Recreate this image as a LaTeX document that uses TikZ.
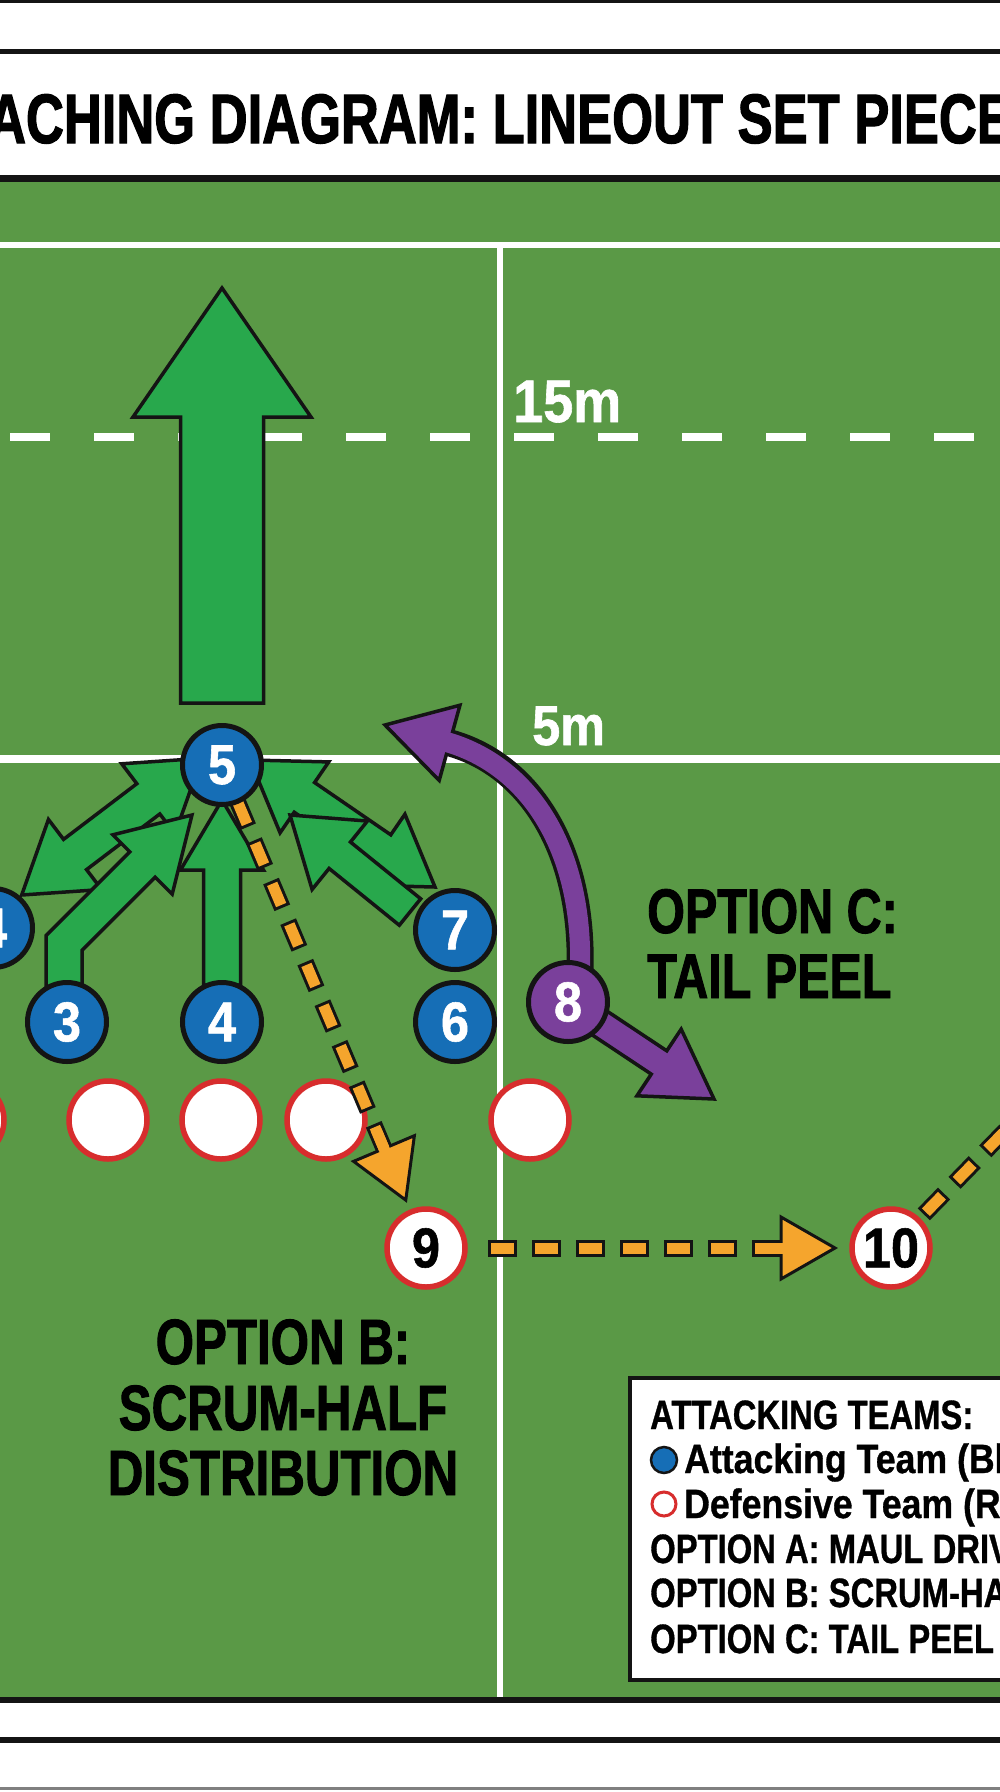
\documentclass[tikz,border=0pt]{standalone}
\usepackage{fontspec}
\usetikzlibrary{calc}
\newfontfamily\titlefont{Liberation Sans}[FakeStretch=0.75, FakeBold=1.6]
\newfontfamily\condfont{Liberation Sans}[FakeStretch=0.77, FakeBold=1.4]
\newfontfamily\legfont{Liberation Sans}[FakeStretch=0.80, FakeBold=0.8]
\newfontfamily\leglowfont{Liberation Sans}[FakeStretch=0.87, FakeBold=0.8]
\newfontfamily\numfont{Liberation Sans}[FakeStretch=0.90, FakeBold=1.0]
\definecolor{field}{RGB}{90,153,70}
\definecolor{agreen}{RGB}{40,168,76}
\definecolor{pblue}{RGB}{22,110,182}
\definecolor{pred}{RGB}{215,45,45}
\definecolor{porange}{RGB}{245,165,45}
\definecolor{ppurple}{RGB}{122,64,155}
\definecolor{inkblack}{RGB}{20,20,20}
\pgfdeclarelayer{bg}
\pgfdeclarelayer{arr}
\pgfsetlayers{bg,arr,main}
% single-headed fat arrow: style, start, tip, half shaft, half head, head length
\newcommand\fatarrow[6]{%
  \coordinate (fab) at ($(#3)!#6!(#2)$);
  \filldraw[#1] ($(#2)!#4!90:(#3)$) -- ($(fab)!#4!90:(#3)$) -- ($(fab)!#5!90:(#3)$) -- (#3)
    -- ($(fab)!#5!-90:(#3)$) -- ($(fab)!#4!-90:(#3)$) -- ($(#2)!#4!-90:(#3)$) -- cycle;}
% double-headed fat arrow
\newcommand\dblarrow[6]{%
  \coordinate (fbone) at ($(#2)!#6!(#3)$);
  \coordinate (fbtwo) at ($(#3)!#6!(#2)$);
  \filldraw[#1] (#2) -- ($(fbone)!#5!90:(#3)$) -- ($(fbone)!#4!90:(#3)$) -- ($(fbtwo)!#4!90:(#3)$)
    -- ($(fbtwo)!#5!90:(#3)$) -- (#3) -- ($(fbtwo)!#5!-90:(#3)$) -- ($(fbtwo)!#4!-90:(#3)$)
    -- ($(fbone)!#4!-90:(#3)$) -- ($(fbone)!#5!-90:(#3)$) -- cycle;}
% outlined dashed arrow: start, head base, tip, half head width
\newcommand\dasharrow[4]{%
  \draw[inkblack, line width=17pt, dash pattern=on 29pt off 15pt] (#1) -- (#2);
  \filldraw[fill=porange, draw=inkblack, line width=3pt, line join=miter]
    ($(#2)!#4!90:(#3)$) -- (#3) -- ($(#2)!#4!-90:(#3)$) -- cycle;
  \draw[porange, line width=11pt, dash pattern=on 0pt off 3pt on 23pt off 18pt] (#1) -- (#2);
  \draw[porange, line width=11pt] ($(#2)!20pt!(#1)$) -- ($(#2)!4pt!(#3)$);}
\begin{document}
\begin{tikzpicture}[x=1pt,y=-1pt,
  garrow/.style={fill=agreen, draw=inkblack, line width=3.5pt, line join=miter},
  parrow/.style={fill=ppurple, draw=inkblack, line width=3.5pt, line join=miter},
  numf/.style={font=\numfont\bfseries\fontsize{56}{56}\selectfont},
  att/.style={circle, draw=inkblack, line width=5pt, fill=pblue, minimum size=79pt, inner sep=0pt, text=white, numf},
  pur/.style={att, fill=ppurple},
  defn/.style={circle, draw=pred, line width=5.5pt, fill=white, minimum size=78pt, inner sep=0pt, text=black, numf},
  bigtxt/.style={inner sep=0pt, font=\condfont\bfseries\fontsize{64}{64}\selectfont},
  lg/.style={anchor=base west, inner sep=0pt, font=\legfont\bfseries\fontsize{41}{45}\selectfont},
  lglow/.style={anchor=base west, inner sep=0pt, font=\leglowfont\bfseries\fontsize{41}{45}\selectfont},
  fieldmark/.style={anchor=base west, inner sep=0pt, text=white}]
\useasboundingbox (0,0) rectangle (1000,1792);

\begin{pgfonlayer}{bg}
  % page bands
  \fill[white] (0,0) rectangle (1000,1792);
  \fill[inkblack] (0,0) rectangle (1000,3);
  \fill[inkblack] (0,49) rectangle (1000,54);
  \fill[field] (0,180) rectangle (1000,1700);
  \fill[inkblack] (0,175) rectangle (1000,182);
  \fill[inkblack] (0,1697) rectangle (1000,1703);
  \fill[inkblack] (0,1737) rectangle (1000,1743);
  \fill[gray] (0,1787) rectangle (1000,1790);
  % field markings
  \fill[white] (0,242) rectangle (1000,248);
  \fill[white] (497,245) rectangle (503,1697);
  \fill[white] (0,755) rectangle (1000,763);
  \draw[white, line width=8pt, dash pattern=on 40pt off 44pt] (10,437) -- (1000,437);
  % defensive line-out
  \node[defn] (d1) at (-35,1120) {};
  \node[defn] (d2) at (108,1120) {};
  \node[defn] (d3) at (221,1120) {};
  \node[defn] (d4) at (326,1120) {};
  \node[defn] (d5) at (530,1120) {};
\end{pgfonlayer}

% title and markings
\node[anchor=base, inner sep=0pt, font=\titlefont\bfseries\fontsize{70}{80}\selectfont] (title) at (500,143) {ACHING DIAGRAM: LINEOUT SET PIECE};
\node[fieldmark, font=\numfont\bfseries\fontsize{60}{60}\selectfont] (m15) at (513,422) {15m};
\node[fieldmark, font=\numfont\bfseries\fontsize{56}{56}\selectfont] (m5) at (532,745) {5m};

% players
\node[att] (n5) at (222,765) {5};
\node[att] (n4L) at (-7,928) {4};
\node[att] (n3) at (67,1022) {3};
\node[att] (n4) at (222,1022) {4};
\node[att] (n7) at (455,930) {7};
\node[att] (n6) at (455,1022) {6};
\node[pur] (n8) at (568,1002) {8};
\node[defn] (n9) at (426,1248) {9};
\node[defn] (n10) at (891,1248) {10};

% option labels
\node[bigtxt, anchor=base west, font=\condfont\bfseries\fontsize{63}{63}\selectfont] (optc1) at (647,933) {OPTION C:};
\node[bigtxt, anchor=base west, font=\condfont\bfseries\fontsize{63}{63}\selectfont] (optc2) at (647,998) {TAIL PEEL};
\node[bigtxt, anchor=base] (optb1) at (283,1364) {OPTION B:};
\node[bigtxt, anchor=base] (optb2) at (283,1430) {SCRUM-HALF};
\node[bigtxt, anchor=base] (optb3) at (283,1495) {DISTRIBUTION};

% legend
\draw[inkblack, line width=4pt, fill=white] (630,1378) rectangle (1015,1680);
\node[lg] (lg1) at (650,1429) {ATTACKING TEAMS:};
\node[circle, fill=pblue, draw=inkblack, line width=2.5pt, minimum size=26pt, inner sep=0pt] (lgd1) at (664,1460) {};
\node[lglow] (lg2) at (684,1473) {Attacking Team (Bl};
\node[circle, fill=white, draw=pred, line width=3pt, minimum size=24pt, inner sep=0pt] (lgd2) at (664,1504) {};
\node[lglow] (lg3) at (684,1518) {Defensive Team (Re};
\node[lg] (lg4) at (650,1563) {OPTION A: MAUL DRIV};
\node[lg] (lg5) at (650,1607) {OPTION B: SCRUM-HA};
\node[lg] (lg6) at (650,1653) {OPTION C: TAIL PEEL};

\begin{pgfonlayer}{arr}
  % option A: maul drive
  \coordinate (maulS) at (222,703);
  \coordinate (maulT) at (222,288);
  \fatarrow{garrow}{maulS}{maulT}{41.5pt}{89pt}{129pt}
  % binding arrows around the jumper
  \coordinate (g1a) at (21.7,895);
  \coordinate (g1b) at (201.7,758.3);
  \dblarrow{garrow}{g1a}{g1b}{19pt}{44pt}{67pt}
  \filldraw[garrow] (46,995) -- (46,935.6) -- (129.8,851.8) -- (112.8,834.8) -- (192,815)
    -- (172.2,894.2) -- (155.2,877.2) -- (82,950.4) -- (82,995) -- cycle;
  \coordinate (g3a) at ($(n4.center)+(0,-37)$);
  \coordinate (g3b) at ($(n5.center)+(0,35)$);
  \fatarrow{garrow}{g3a}{g3b}{18.5pt}{41.5pt}{70pt}
  \coordinate (g4a) at (250,760);
  \coordinate (g4b) at (435,887);
  \dblarrow{garrow}{g4a}{g4b}{18pt}{43pt}{66pt}
  \coordinate (g5a) at (410,912);
  \coordinate (g5b) at (290,815);
  \fatarrow{garrow}{g5a}{g5b}{17pt}{44pt}{64pt}
  % option C: tail peel
  \coordinate (pstart) at ($(n8.center)+(12,-30)$);
  \coordinate (ptip) at (385,725);
  \coordinate (pcone) at (584,850);
  \coordinate (pctwo) at (530,765);
  \coordinate (pbase) at ($(ptip)!67pt!(pctwo)$);
  \draw[inkblack, line width=27pt] (pstart) .. controls (pcone) and (pctwo) .. (pbase);
  \filldraw[parrow] ($(pbase)!39pt!90:(ptip)$) -- (ptip) -- ($(pbase)!39pt!-90:(ptip)$) -- cycle;
  \draw[ppurple, line width=20pt] (pstart) .. controls (pcone) and (pctwo) .. ($(pbase)!5pt!(ptip)$);
  \coordinate (ptwo) at (714,1099);
  \fatarrow{parrow}{n8.center}{ptwo}{14pt}{40pt}{66pt}
  % option B: scrum-half distribution
  \coordinate (oones) at ($(n5.center)!38pt!(n9.center)$);
  \coordinate (oonet) at ($(n9.center)!52pt!(n5.center)$);
  \coordinate (ooneb) at ($(oonet)!56pt!(n5.center)$);
  \dasharrow{oones}{ooneb}{oonet}{33pt}
  \coordinate (otwos) at ($(n9.center)!62pt!(n10.center)$);
  \coordinate (otwot) at ($(n10.center)!56pt!(n9.center)$);
  \coordinate (otwob) at ($(otwot)!54pt!(n9.center)$);
  \dasharrow{otwos}{otwob}{otwot}{31pt}
  \coordinate (othreee) at (1045,1090);
  \coordinate (othrees) at ($(n10.center)!47pt!(othreee)$);
  \draw[inkblack, line width=17pt, dash pattern=on 29pt off 15pt] (othrees) -- (othreee);
  \draw[porange, line width=11pt, dash pattern=on 0pt off 3pt on 23pt off 18pt] (othrees) -- (othreee);
\end{pgfonlayer}
\end{tikzpicture}
\end{document}
